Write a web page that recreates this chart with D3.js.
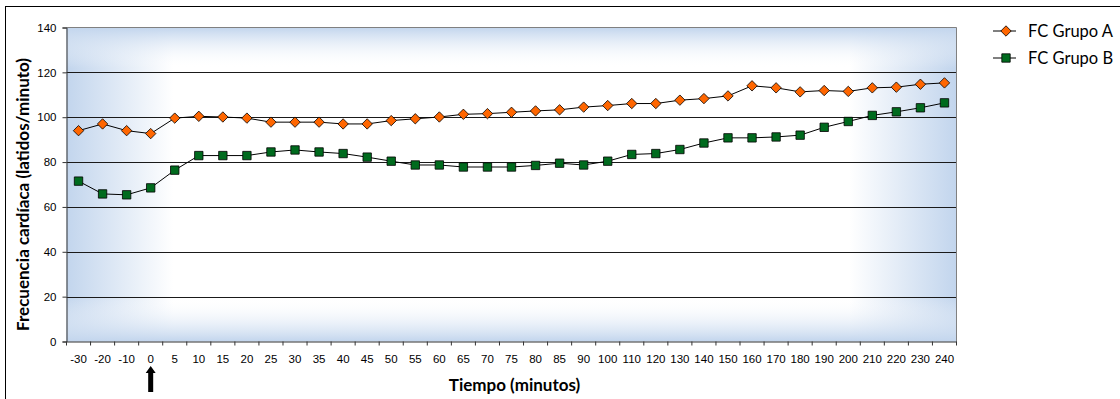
<!DOCTYPE html>
<html>
<head>
<meta charset="utf-8">
<script src="https://cdn.jsdelivr.net/npm/d3@7"></script>
<style>
  body { margin: 0; background: #fff; }
  svg { display: block; }
</style>
</head>
<body>
<div id="chart"></div>
<script>
// categories (minutes) and heart rate values
var tiempos = ["-30","-20","-10","0","5","10","15","20","25","30","35","40","45","50","55","60","65","70","75","80","85","90",
               "100","110","120","130","140","150","160","170","180","190","200","210","220","230","240"];
var grupoA = [94, 97, 94, 92.7, 99.6, 100.4, 100.1, 99.6, 97.8, 97.8, 97.8, 97, 97, 98.5, 99.3, 100.1, 101.3, 101.6, 102.2, 102.8, 103.3, 104.5,
              105.2, 106.1, 106.1, 107.6, 108.3, 109.5, 114, 113.1, 111.3, 111.9, 111.5, 113.1, 113.4, 114.7, 115.3];
var grupoB = [71.5, 65.8, 65.4, 68.5, 76.4, 82.9, 82.9, 82.9, 84.5, 85.4, 84.5, 83.8, 82.2, 80.4, 78.7, 78.7, 77.8, 77.8, 77.8, 78.5, 79.5, 78.7,
              80.4, 83.4, 83.8, 85.6, 88.5, 90.8, 90.8, 91.2, 92, 95.5, 98.1, 100.8, 102.4, 104.2, 106.4];
var yTicks = [0, 20, 40, 60, 80, 100, 120, 140];
var series = [
  {name: "FC Grupo A", values: grupoA, shape: "diamond", color: "#ff6600"},
  {name: "FC Grupo B", values: grupoB, shape: "square", color: "#006b1e"}
];

var W = 1120, H = 399;
var plot = {left: 66.5, top: 27.5, right: 956.5, bottom: 341.5};

var svg = d3.select("#chart").append("svg")
  .attr("width", W)
  .attr("height", H);

// outer chart frame (runs past the picture edges on the right and bottom)
svg.append("rect")
  .attr("x", 5.5).attr("y", 6.5)
  .attr("width", W + 20).attr("height", H + 20)
  .attr("fill", "#fff")
  .attr("stroke", "#000");

var defs = svg.append("defs");
var gh = defs.append("linearGradient").attr("id", "gh").attr("x1", 0).attr("x2", 1).attr("y1", 0).attr("y2", 0);
gh.append("stop").attr("offset", "0%").attr("stop-color", "#c2d5ed");
gh.append("stop").attr("offset", "12%").attr("stop-color", "#ffffff");
gh.append("stop").attr("offset", "88%").attr("stop-color", "#ffffff");
gh.append("stop").attr("offset", "100%").attr("stop-color", "#c2d5ed");
var gv = defs.append("linearGradient").attr("id", "gv").attr("x1", 0).attr("x2", 0).attr("y1", 0).attr("y2", 1);
gv.append("stop").attr("offset", "0%").attr("stop-color", "#c2d5ed").attr("stop-opacity", 1);
gv.append("stop").attr("offset", "13%").attr("stop-color", "#ffffff").attr("stop-opacity", 0);
gv.append("stop").attr("offset", "86%").attr("stop-color", "#ffffff").attr("stop-opacity", 0);
gv.append("stop").attr("offset", "100%").attr("stop-color", "#c2d5ed").attr("stop-opacity", 1);

var x = d3.scaleBand()
  .domain(tiempos)
  .range([plot.left, plot.right])
  .padding(0);

var y = d3.scaleLinear()
  .domain([0, 140])
  .range([plot.bottom, plot.top]);

// plot background
svg.append("rect")
  .attr("x", plot.left).attr("y", plot.top)
  .attr("width", plot.right - plot.left).attr("height", plot.bottom - plot.top)
  .attr("fill", "url(#gh)");
svg.append("rect")
  .attr("x", plot.left).attr("y", plot.top)
  .attr("width", plot.right - plot.left).attr("height", plot.bottom - plot.top)
  .attr("fill", "url(#gv)");

// gridlines
svg.append("g")
  .selectAll("line")
  .data(yTicks.filter(function(d) { return d > 0 && d < 140; }))
  .enter().append("line")
    .attr("x1", plot.left).attr("x2", plot.right)
    .attr("y1", function(d) { return Math.round(y(d)) + 0.5; })
    .attr("y2", function(d) { return Math.round(y(d)) + 0.5; })
    .attr("stroke", "#1a1a1a")
    .attr("stroke-width", 1);

// plot border (top and right gray)
svg.append("path")
  .attr("d", "M" + plot.left + "," + plot.top + "H" + plot.right + "V" + plot.bottom)
  .attr("fill", "none")
  .attr("stroke", "#808080");

// Y axis
var yAxis = svg.append("g")
  .attr("transform", "translate(" + plot.left + ",0)")
  .call(d3.axisLeft(y).tickValues(yTicks).tickSize(4).tickPadding(6));
yAxis.select(".domain").attr("stroke", "#333");
yAxis.selectAll(".tick line").attr("stroke", "#333");
yAxis.selectAll("text")
  .attr("fill", "#000")
  .style("font-family", "'Liberation Sans', Arial, sans-serif")
  .style("font-size", "11.5px");

// X axis: labels at category centres, ticks between categories
var xAxis = svg.append("g")
  .attr("transform", "translate(0," + plot.bottom + ")")
  .call(d3.axisBottom(x).tickSize(0).tickPadding(13));
xAxis.select(".domain").attr("stroke", "#333");
xAxis.selectAll("text")
  .attr("fill", "#000")
  .style("font-family", "'Liberation Sans', Arial, sans-serif")
  .style("font-size", "11.5px");
svg.append("g")
  .selectAll("line")
  .data(tiempos.map(function(d) { return x(d); }).concat([plot.right]))
  .enter().append("line")
    .attr("x1", function(d) { return d; }).attr("x2", function(d) { return d; })
    .attr("y1", plot.bottom).attr("y2", plot.bottom + 4)
    .attr("stroke", "#333");

// axis titles
svg.append("text")
  .attr("x", (plot.left + plot.right) / 2 + 3)
  .attr("y", 391)
  .attr("text-anchor", "middle")
  .style("font-family", "Lato, 'Open Sans', sans-serif")
  .style("font-weight", "bold")
  .style("font-size", "17px")
  .text("Tiempo (minutos)");

svg.append("text")
  .attr("transform", "translate(29," + ((plot.top + plot.bottom) / 2 + 10) + ") rotate(-90)")
  .attr("text-anchor", "middle")
  .style("font-family", "Lato, 'Open Sans', sans-serif")
  .style("font-weight", "bold")
  .style("font-size", "17px")
  .text("Frecuencia cardíaca (latidos/minuto)");

// arrow under time 0
var ax = x("0") + x.bandwidth() / 2;
svg.append("path")
  .attr("d", "M" + ax + ",366 L" + (ax + 5) + ",373 L" + (ax + 2.5) + ",373 L" + (ax + 2.5) + ",392 L" + (ax - 2.5) + ",392 L" + (ax - 2.5) + ",373 L" + (ax - 5) + ",373 Z")
  .attr("fill", "#000");

// lines and markers
var line = d3.line()
  .x(function(d, i) { return x(tiempos[i]) + x.bandwidth() / 2; })
  .y(function(d) { return y(d); });

function marker(shape) {
  if (shape === "diamond") return "M0,-5.2L5.2,0L0,5.2L-5.2,0Z";
  return "M-4.2,-4.2H4.2V4.2H-4.2Z";
}

series.forEach(function(s) {
  svg.append("path")
    .datum(s.values)
    .attr("d", line)
    .attr("fill", "none")
    .attr("stroke", "#000")
    .attr("stroke-width", 1);
  svg.append("g")
    .selectAll("path")
    .data(s.values)
    .enter().append("path")
      .attr("transform", function(d, i) {
        return "translate(" + (x(tiempos[i]) + x.bandwidth() / 2) + "," + y(d) + ")";
      })
      .attr("d", marker(s.shape))
      .attr("fill", s.color)
      .attr("stroke", "#000")
      .attr("stroke-width", 0.8);
});

// legend
var legend = svg.append("g")
  .selectAll("g")
  .data(series)
  .enter().append("g")
    .attr("transform", function(d, i) { return "translate(993," + (31 + i * 27) + ")"; });
legend.append("line")
  .attr("x1", 0).attr("x2", 23)
  .attr("stroke", "#000");
legend.append("path")
  .attr("transform", "translate(13,0)")
  .attr("d", function(d) { return marker(d.shape); })
  .attr("fill", function(d) { return d.color; })
  .attr("stroke", "#000")
  .attr("stroke-width", 0.8);
legend.append("text")
  .attr("x", 35)
  .attr("dy", "0.35em")
  .style("font-family", "Lato, 'Open Sans', sans-serif")
  .style("font-size", "16.5px")
  .text(function(d) { return d.name; });
</script>
</body>
</html>
